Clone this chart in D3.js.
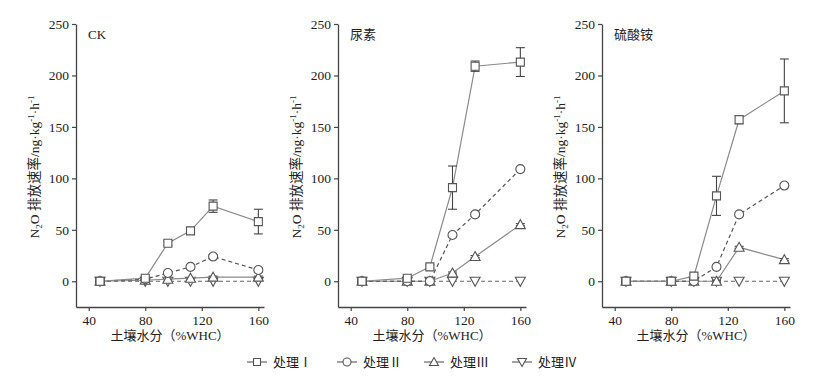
<!DOCTYPE html>
<html>
<head>
<meta charset="utf-8">
<script src="https://cdn.jsdelivr.net/npm/d3@7"></script>
<style>
  body { margin: 0; background: #fff; }
  text { font-family: 'Liberation Serif', 'Noto Sans CJK SC', serif; }
</style>
</head>
<body>
<script>
// Data
const moisture = [48, 80, 96, 112, 128, 160];
const panelNames = ['CK', '尿素', '硫酸铵'];
const treatments = ['处理Ⅰ', '处理Ⅱ', '处理Ⅲ', '处理Ⅳ'];
const xTicks = [40, 80, 120, 160];
const yTicks = [0, 50, 100, 150, 200, 250];

// rows: 处理I..IV, columns follow moisture
const ckValues = [
  [0, 3, 37, 49, 73, 58],
  [0, 2, 8, 14, 24, 11],
  [0, 1, 2, 3, 4, 4],
  [0, 0, 0, 0, 0, 0]
];
const ckErrors = [
  [1, 1, 2, 2, 6, 12],
  [1, 1, 1, 2, 2, 2],
  [0, 0, 0, 0, 1, 1],
  [0, 0, 0, 0, 0, 0]
];
const ureaValues = [
  [0, 3, 14, 91, 209, 213],
  [0, 0, 0, 45, 65, 109],
  [0, 0, 0, 8, 24, 55],
  [0, 0, 0, 0, 0, 0]
];
const ureaErrors = [
  [1, 1, 2, 21, 5, 14],
  [0, 0, 0, 2, 2, 1],
  [0, 0, 0, 1, 1, 1],
  [0, 0, 0, 0, 0, 0]
];
const sulfateValues = [
  [0, 0, 5, 83, 157, 185],
  [0, 0, 0, 14, 65, 93],
  [0, 0, 0, 0, 33, 21],
  [0, 0, 0, 0, 0, 0]
];
const sulfateErrors = [
  [1, 1, 2, 19, 4, 31],
  [0, 0, 0, 2, 1, 2],
  [0, 0, 0, 1, 1, 1],
  [0, 0, 0, 0, 0, 0]
];

const panelValues = [ckValues, ureaValues, sulfateValues];
const panelErrors = [ckErrors, ureaErrors, sulfateErrors];

// Layout
const width = 835;
const height = 376;
const panelLefts = [76, 338, 602];
const plotWidth = 188;
const plotTop = 24;
const plotBottom = 307;

const lineStyles = [
  { dash: null, color: '#8a8a8a' },
  { dash: '4,3', color: '#555' },
  { dash: null, color: '#8a8a8a' },
  { dash: '4,3', color: '#666' }
];
const markerStroke = '#555';

function markerPath(type, s) {
  if (type === 0) return `M${-s},${-s}H${s}V${s}H${-s}Z`;
  if (type === 1) return d3.symbol(d3.symbolCircle, Math.PI * (s + 0.5) * (s + 0.5))();
  if (type === 2) return `M0,${-s - 1}L${s + 1},${s}L${-s - 1},${s}Z`;
  return `M0,${s + 1}L${s + 1},${-s}L${-s - 1},${-s}Z`;
}

const svg = d3.select('body')
  .append('svg')
  .attr('width', width)
  .attr('height', height);

const yScale = d3.scaleLinear().domain([-25, 250]).range([plotBottom, plotTop]);

panelNames.forEach((name, p) => {
  const left = panelLefts[p];
  const xScale = d3.scaleLinear().domain([31, 164]).range([left, left + plotWidth]);
  const g = svg.append('g');

  // Axes
  const yAxisG = g.append('g')
    .attr('transform', `translate(${left},0)`)
    .call(d3.axisLeft(yScale).tickValues(yTicks).tickSize(4).tickSizeOuter(0).tickPadding(3));
  const xAxisG = g.append('g')
    .attr('transform', `translate(0,${plotBottom})`)
    .call(d3.axisBottom(xScale).tickValues(xTicks).tickSize(4).tickSizeOuter(0).tickPadding(4));
  [yAxisG, xAxisG].forEach((a) => {
    a.select('.domain').attr('stroke', '#444').attr('stroke-width', 1.3);
    a.selectAll('.tick line').attr('stroke', '#444').attr('stroke-width', 1.2);
    a.selectAll('.tick text')
      .attr('fill', '#222')
      .attr('font-size', '13.5px')
      .style('font-family', "'Liberation Serif', serif");
  });

  // Panel label
  g.append('text')
    .attr('x', left + 12)
    .attr('y', 39)
    .attr('font-size', '13px')
    .attr('fill', '#222')
    .text(name);

  // X axis title
  g.append('text')
    .attr('x', left + plotWidth / 2)
    .attr('y', 340)
    .attr('text-anchor', 'middle')
    .attr('font-size', '13px')
    .attr('fill', '#222')
    .text('土壤水分（%WHC）');

  // Y axis title
  const yl = g.append('text')
    .attr('transform', `translate(${left - 37},167) rotate(-90)`)
    .attr('text-anchor', 'middle')
    .attr('font-size', '13.5px')
    .attr('fill', '#222');
  yl.append('tspan').text('N');
  yl.append('tspan').attr('font-size', '9px').attr('dy', 3).text('2');
  yl.append('tspan').attr('dy', -3).text('O 排放速率/ng·kg');
  yl.append('tspan').attr('font-size', '9px').attr('dy', -5).text('-1');
  yl.append('tspan').attr('dy', 5).text('·h');
  yl.append('tspan').attr('font-size', '9px').attr('dy', -5).text('-1');

  const values = panelValues[p];
  const errors = panelErrors[p];
  const line = d3.line().x((d, i) => xScale(moisture[i])).y((d) => yScale(d));

  // Draw series from last to first so 处理I sits on top
  [3, 2, 1, 0].forEach((s) => {
    const sg = g.append('g');
    sg.append('path')
      .datum(values[s])
      .attr('d', line)
      .attr('fill', 'none')
      .attr('stroke', lineStyles[s].color)
      .attr('stroke-width', 1.2)
      .attr('stroke-dasharray', lineStyles[s].dash);

    const pts = values[s].map((v, i) => ({ x: moisture[i], v, e: errors[s][i] }));
    const eb = sg.selectAll('.err')
      .data(pts.filter((d) => d.e > 0))
      .join('g')
      .attr('stroke', '#444')
      .attr('stroke-width', 1.1);
    eb.append('line')
      .attr('x1', (d) => xScale(d.x)).attr('x2', (d) => xScale(d.x))
      .attr('y1', (d) => yScale(d.v + d.e)).attr('y2', (d) => yScale(d.v - d.e));
    eb.append('line')
      .attr('x1', (d) => xScale(d.x) - 4.5).attr('x2', (d) => xScale(d.x) + 4.5)
      .attr('y1', (d) => yScale(d.v + d.e)).attr('y2', (d) => yScale(d.v + d.e));
    eb.append('line')
      .attr('x1', (d) => xScale(d.x) - 4.5).attr('x2', (d) => xScale(d.x) + 4.5)
      .attr('y1', (d) => yScale(d.v - d.e)).attr('y2', (d) => yScale(d.v - d.e));

    sg.selectAll('.mk')
      .data(pts)
      .join('path')
      .attr('transform', (d) => `translate(${xScale(d.x)},${yScale(d.v)})`)
      .attr('d', markerPath(s, 4))
      .attr('fill', '#fff')
      .attr('stroke', markerStroke)
      .attr('stroke-width', 1.1);
  });
});

// Legend
const legendX = [247, 337, 424, 512];
treatments.forEach((t, s) => {
  const lg = svg.append('g').attr('transform', `translate(${legendX[s]},362)`);
  lg.append('line')
    .attr('x1', 0).attr('x2', 20)
    .attr('stroke', '#666')
    .attr('stroke-width', 1.2);
  lg.append('path')
    .attr('transform', 'translate(10,0)')
    .attr('d', markerPath(s, 3.5))
    .attr('fill', '#fff')
    .attr('stroke', markerStroke)
    .attr('stroke-width', 1.1);
  lg.append('text')
    .attr('x', 26)
    .attr('y', 5)
    .attr('font-size', '13px')
    .attr('fill', '#222')
    .style('font-family', "'Noto Sans CJK SC', serif")
    .text(t);
});
</script>
</body>
</html>
